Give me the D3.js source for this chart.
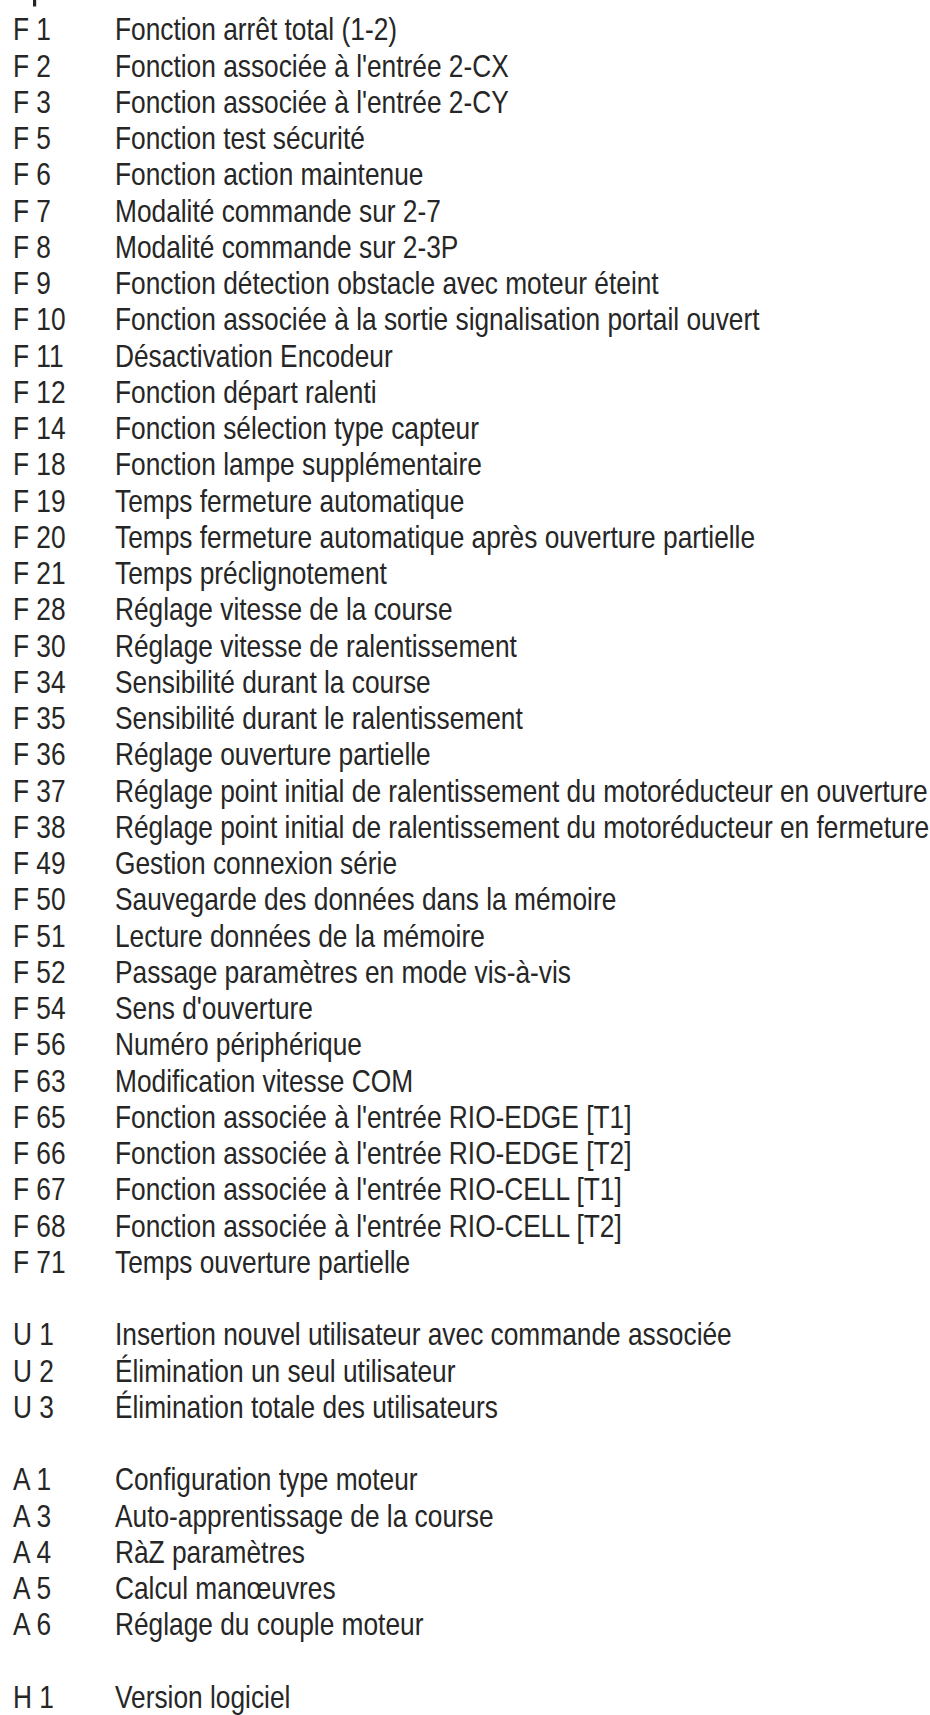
<!DOCTYPE html>
<html>
<head>
<meta charset="utf-8">
<script src="https://cdn.jsdelivr.net/npm/d3@7"></script>
<style>
  html, body { margin: 0; padding: 0; background: #ffffff; }
  svg { display: block; }
</style>
</head>
<body>
<svg id="chart" width="930" height="1715"></svg>
<script>
// ---- data ----
const fCodes = ["F 1","F 2","F 3","F 5","F 6","F 7","F 8","F 9","F 10","F 11","F 12","F 14","F 18","F 19","F 20","F 21","F 28","F 30","F 34","F 35","F 36","F 37","F 38","F 49","F 50","F 51","F 52","F 54","F 56","F 63","F 65","F 66","F 67","F 68","F 71"];
const fLabels = [
  "Fonction arrêt total (1-2)",
  "Fonction associée à l'entrée 2-CX",
  "Fonction associée à l'entrée 2-CY",
  "Fonction test sécurité",
  "Fonction action maintenue",
  "Modalité commande sur 2-7",
  "Modalité commande sur 2-3P",
  "Fonction détection obstacle avec moteur éteint",
  "Fonction associée à la sortie signalisation portail ouvert",
  "Désactivation Encodeur",
  "Fonction départ ralenti",
  "Fonction sélection type capteur",
  "Fonction lampe supplémentaire",
  "Temps fermeture automatique",
  "Temps fermeture automatique après ouverture partielle",
  "Temps préclignotement",
  "Réglage vitesse de la course",
  "Réglage vitesse de ralentissement",
  "Sensibilité durant la course",
  "Sensibilité durant le ralentissement",
  "Réglage ouverture partielle",
  "Réglage point initial de ralentissement du motoréducteur en ouverture",
  "Réglage point initial de ralentissement du motoréducteur en fermeture",
  "Gestion connexion série",
  "Sauvegarde des données dans la mémoire",
  "Lecture données de la mémoire",
  "Passage paramètres en mode vis-à-vis",
  "Sens d'ouverture",
  "Numéro périphérique",
  "Modification vitesse COM",
  "Fonction associée à l'entrée RIO-EDGE [T1]",
  "Fonction associée à l'entrée RIO-EDGE [T2]",
  "Fonction associée à l'entrée RIO-CELL [T1]",
  "Fonction associée à l'entrée RIO-CELL [T2]",
  "Temps ouverture partielle"
];
const uCodes = ["U 1","U 2","U 3"];
const uLabels = [
  "Insertion nouvel utilisateur avec commande associée",
  "Élimination un seul utilisateur",
  "Élimination totale des utilisateurs"
];
const aCodes = ["A 1","A 3","A 4","A 5","A 6"];
const aLabels = [
  "Configuration type moteur",
  "Auto-apprentissage de la course",
  "RàZ paramètres",
  "Calcul manœuvres",
  "Réglage du couple moteur"
];
const hCodes = ["H 1"];
const hLabels = ["Version logiciel"];

// ---- build rows (blank row between groups) ----
const groups = [[fCodes, fLabels], [uCodes, uLabels], [aCodes, aLabels], [hCodes, hLabels]];
const rows = [];
let idx = 0;
groups.forEach((g, gi) => {
  if (gi > 0) idx += 1;
  g[0].forEach((c, i) => { rows.push({ code: c, label: g[1][i], row: idx }); idx += 1; });
});
const lastRow = idx - 1;

const svg = d3.select("#chart");
const y = d3.scaleLinear().domain([0, lastRow]).range([40.5, 1708]);
const xCode = 13, xLabel = 115, targetRight = 928;
const fontFamily = "'Liberation Sans', Arial, sans-serif";
const fontSize = 31;
const color = "#262626";

// cut-off fragment from the previous (unseen) line at the very top
svg.append("rect").attr("x", 33).attr("y", 0).attr("width", 3.2).attr("height", 6.5).attr("fill", color);

const g = svg.append("g");
const rowG = g.selectAll("g.row").data(rows).join("g").attr("class", "row");

const codeT = rowG.append("text")
  .attr("y", d => y(d.row))
  .attr("font-family", fontFamily).attr("font-size", fontSize)
  .attr("fill", color)
  .text(d => d.code);
const labT = rowG.append("text")
  .attr("y", d => y(d.row))
  .attr("font-family", fontFamily).attr("font-size", fontSize)
  .attr("fill", color)
  .text(d => d.label);

// horizontal condensing to match the reference's condensed face
const widest = labT.filter(d => d.code === "F 37").node().getComputedTextLength();
const sx = (targetRight - xLabel) / widest;
g.attr("transform", `scale(${sx},1)`);
codeT.attr("x", xCode / sx);
labT.attr("x", xLabel / sx);
</script>
</body>
</html>
